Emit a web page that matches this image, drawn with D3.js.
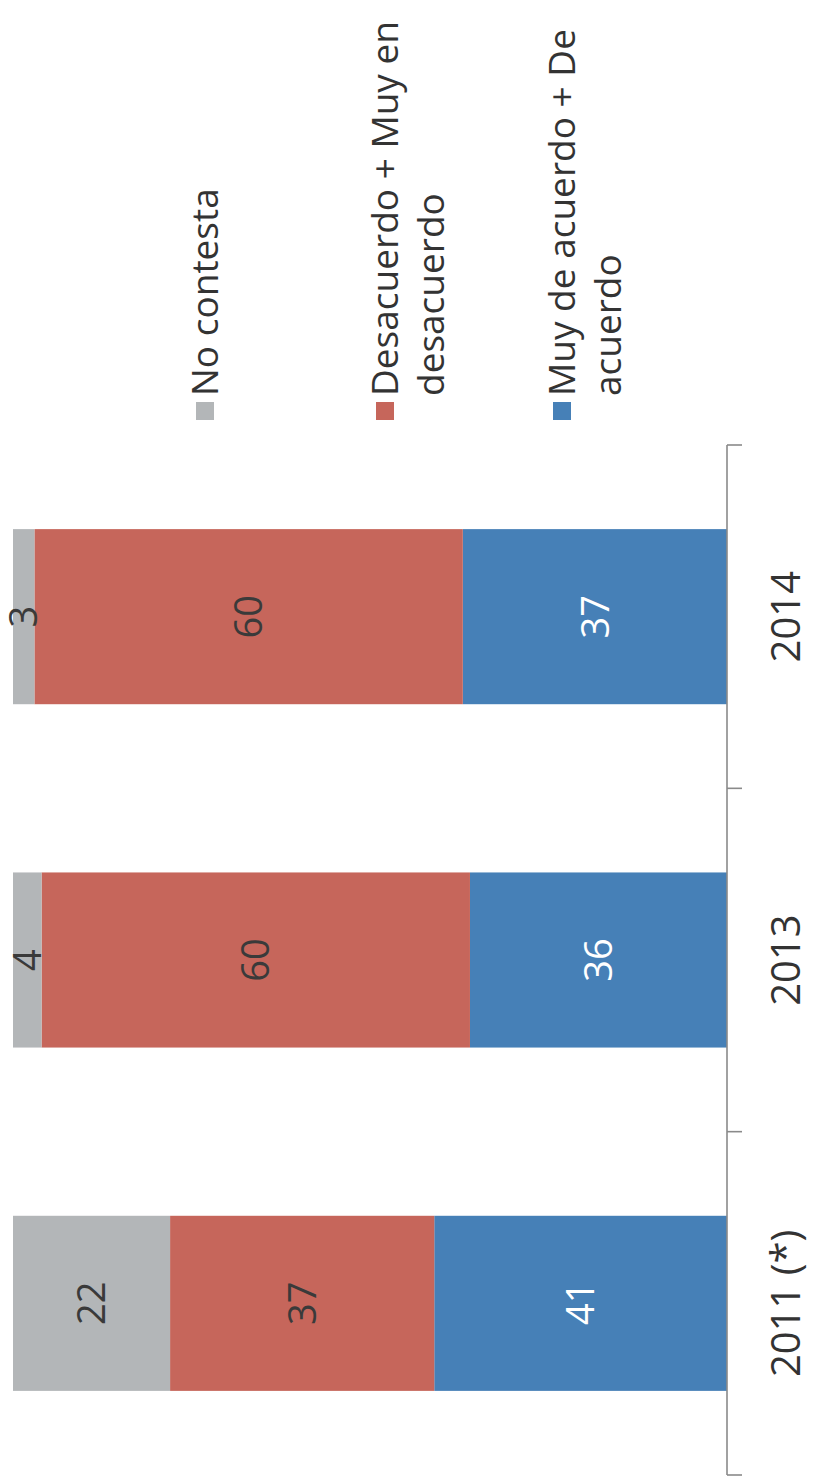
<!DOCTYPE html>
<html><head><meta charset="utf-8">
<script src="https://cdn.jsdelivr.net/npm/d3@7"></script>
<style>html,body{margin:0;padding:0;background:#fff;}svg{display:block;}</style>
</head><body>
<script>
const categories = ["2011 (*)", "2013", "2014"];
const seriesNames = ["Muy de acuerdo + De acuerdo", "Desacuerdo + Muy en desacuerdo", "No contesta"];
const acuerdo = [41, 36, 37];
const desacuerdo = [37, 60, 60];
const noContesta = [22, 4, 3];
const legendLines = [["No contesta"], ["Desacuerdo + Muy en", "desacuerdo"], ["Muy de acuerdo + De", "acuerdo"]];
const legendKeys = ["noContesta", "desacuerdo", "acuerdo"];

const colors = {acuerdo: "#4680b7", desacuerdo: "#c6665b", noContesta: "#b3b6b8"};
const labelColors = {acuerdo: "#ffffff", desacuerdo: "#3a3a3a", noContesta: "#3a3a3a"};

const PW = 813, PH = 1482;
const svg = d3.select("body").append("svg").attr("width", PW).attr("height", PH);
// chart drawn in unrotated frame (width PH, height PW), then rotated -90deg
const g = svg.append("g").attr("transform", `translate(0,${PH}) rotate(-90)`);

const rows = categories.map((c, i) => ({cat: c, acuerdo: acuerdo[i], desacuerdo: desacuerdo[i], noContesta: noContesta[i]}));
const keys = ["acuerdo", "desacuerdo", "noContesta"];
const stacked = d3.stack().keys(keys)(rows);

const x = d3.scaleBand().domain(categories).range([7, 1037]).paddingInner(0.49).paddingOuter(0.245);
const y = d3.scaleLinear().domain([0, 100]).range([727, 13]);

const font = "'Open Sans', sans-serif";

const layer = g.selectAll("g.layer").data(stacked).join("g").attr("class", "layer")
  .attr("fill", d => colors[d.key]);
layer.selectAll("rect").data(d => d.map(v => ({v, key: d.key}))).join("rect")
  .attr("x", d => x(d.v.data.cat))
  .attr("width", x.bandwidth())
  .attr("y", d => y(d.v[1]))
  .attr("height", d => y(d.v[0]) - y(d.v[1]));

layer.selectAll("text").data(d => d.map(v => ({v, key: d.key}))).join("text")
  .attr("x", d => x(d.v.data.cat) + x.bandwidth() / 2)
  .attr("y", d => (y(d.v[0]) + y(d.v[1])) / 2)
  .attr("dy", "0.36em")
  .attr("text-anchor", "middle")
  .attr("font-family", font)
  .attr("font-size", 38)
  .attr("fill", d => labelColors[d.key])
  .text(d => d.v[1] - d.v[0]);

// category axis
const ax = g.append("g").attr("stroke", "#8a8a8a").attr("stroke-width", 1.6);
ax.append("line").attr("x1", x.range()[0]).attr("x2", x.range()[1]).attr("y1", y(0)).attr("y2", y(0));
const step = x.step();
const edges = d3.range(categories.length + 1).map(i => x.range()[0] + i * step);
ax.selectAll("line.tick").data(edges).join("line").attr("class", "tick")
  .attr("x1", d => d).attr("x2", d => d).attr("y1", y(0)).attr("y2", y(0) + 15);

g.selectAll("text.cat").data(categories).join("text").attr("class", "cat")
  .attr("x", d => x(d) + x.bandwidth() / 2)
  .attr("y", 800)
  .attr("text-anchor", "middle")
  .attr("font-family", font)
  .attr("font-size", 40)
  .attr("fill", "#333")
  .text(d => d);

// legend
const legendY = [205, 385, 562];
const leg = g.selectAll("g.leg").data(legendKeys).join("g").attr("class", "leg")
  .attr("transform", (d, i) => `translate(1062,${legendY[i]})`);
leg.append("rect").attr("x", 0).attr("y", -9).attr("width", 18).attr("height", 18)
  .attr("fill", d => colors[d]);
leg.each(function(d, i) {
  const sel = d3.select(this);
  legendLines[i].forEach((t, j) => {
    sel.append("text").attr("x", 24).attr("y", j * 46).attr("dy", "0.36em")
      .attr("font-family", font).attr("font-size", 37).attr("fill", "#333").text(t);
  });
});
</script>
</body></html>
